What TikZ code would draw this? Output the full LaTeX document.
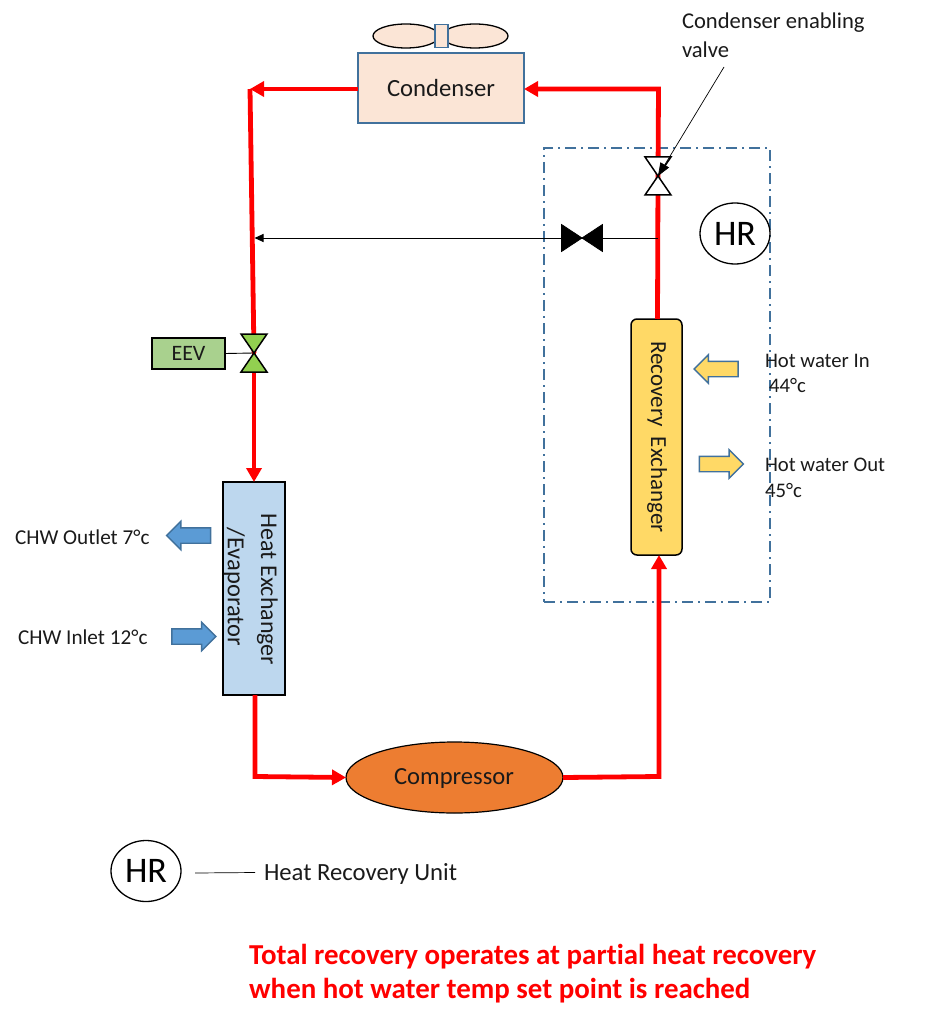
\documentclass[tikz,border=0pt]{standalone}
\usepackage{fontspec}
\setmainfont[Ligatures=NoCommon]{Carlito}
\usetikzlibrary{arrows.meta,shapes.geometric,shapes.arrows}
\definecolor{bluel}{HTML}{41719C}
\definecolor{peach}{HTML}{FBE5D6}
\definecolor{hxblue}{HTML}{BDD7EE}
\definecolor{midblue}{HTML}{5B9BD5}
\definecolor{gold}{HTML}{FFD966}
\definecolor{grn}{HTML}{A9D18E}
\definecolor{vgrn}{HTML}{92D050}
\definecolor{orng}{HTML}{ED7D31}
\definecolor{ink}{HTML}{1A1A1A}
\tikzset{
  lab/.style={font=\fontsize{21}{25}\selectfont,text=ink,inner sep=0pt,outer sep=0pt},
  box/.style={draw,line width=1.5pt,inner sep=0pt,outer sep=0pt},
  pipe/.style={red,line width=4.8pt,line join=miter},
  pipearrow/.style={pipe,-{Triangle[length=14pt,width=15pt]}},
  thin/.style={draw=black,line width=0.9pt},
  blk/.style={shape=single arrow,single arrow head extend=6.5pt,single arrow head indent=0pt,
     minimum height=44pt,inner xsep=0pt,inner ysep=7pt,outer sep=0pt,line width=1.4pt},
  hr/.style={ellipse,draw,line width=1.3pt,inner sep=0pt,outer sep=0pt,font=\fontsize{36}{40}\selectfont},
  tri/.style={draw=black,line width=1.5pt,line join=miter},
}
\begin{document}
\begin{tikzpicture}[x=1pt,y=-1pt]
\useasboundingbox (0,0) rectangle (929,1024);
% nodes
\node[box,draw=bluel,fill=peach,minimum width=166pt,minimum height=70pt] (cond) at (441,88) {};
\node[lab,font=\fontsize{24.7}{28}\selectfont] (condt) at (441,88) {Condenser};
\node[ellipse,draw=black,line width=1.3pt,fill=peach,minimum width=66pt,minimum height=24pt,inner sep=0pt] (fanl) at (406,36) {};
\node[ellipse,draw=black,line width=1.3pt,fill=peach,minimum width=66pt,minimum height=24pt,inner sep=0pt] (fanr) at (475,36) {};
\node[box,draw=bluel,fill=peach,minimum width=13pt,minimum height=23pt,line width=1.2pt] (hub) at (441.5,36) {};
\node[box,fill=hxblue,minimum width=62pt,minimum height=213pt] (hx) at (254,588.5) {};
\node[lab,rotate=-90,font=\fontsize{24}{28}\selectfont] (hxa) at (267.5,589.5) {Heat Exchanger};
\node[lab,rotate=-90,font=\fontsize{24.5}{28}\selectfont] (hxb) at (234.5,587) {/Evaporator};
\node[box,fill=gold,rounded corners=6pt,minimum width=51pt,minimum height=236pt] (rec) at (656.5,437) {};
\node[lab,rotate=-90,font=\fontsize{23}{27}\selectfont] (rect) at (657,437) {Recovery\ \ Exchanger};
\node[ellipse,draw=black,line width=1.2pt,fill=orng,minimum width=217pt,minimum height=71pt,inner sep=0pt,outer sep=0pt] (comp) at (454.5,777.5) {};
\node[lab,font=\fontsize{24.6}{28}\selectfont] (compt) at (454,778) {Compressor};
\node[box,fill=grn,minimum width=73pt,minimum height=31pt] (eev) at (188.5,353.5) {};
\node[lab,font=\fontsize{22}{26}\selectfont] (eevt) at (188.5,353.5) {EEV};
% coordinates
\coordinate (c1) at (250,89);
\coordinate (c2) at (658.5,89);
\coordinate (c3) at (255,776.5);
\coordinate (c4) at (659,776.5);
\coordinate (v1) at (658,176);
\coordinate (v2) at (582,238);
\coordinate (v3) at (254,353);
\coordinate (tee) at (658,238);
\coordinate (teel) at (254.5,238);
\coordinate (notea) at (724,67);
\coordinate (rectop) at (657.5,319);
% dash-dot box
\node[draw=bluel,line width=1.3pt,dash pattern=on 11pt off 5pt on 2pt off 5pt,minimum width=226pt,minimum height=454pt,inner sep=0pt] (hrbox) at (657,375) {};
% pipes
\draw[pipe] (c1) -- (v3);
\draw[pipearrow] (c1 -| cond.west) -- (c1);
\draw[pipearrow] (v3) -- (hx.north -| v3);
\draw[pipearrow] (hx.south -| c3) -- (c3) -- (comp.west);
\draw[pipearrow] (comp.east) -- (c4) -- (rec.south -| c4);
\draw[pipe] (rectop) -- (v1);
\draw[pipearrow] (v1) -- (c2) -- (cond.east |- c2);
% thin
\draw[thin,-{Triangle[length=9pt,width=8pt]}] (tee) -- (teel);
\draw[thin] (eev.east) -- (v3);
% valves
\draw[tri,fill=white] (v1) -- ++(-13,-19) -- ++(26,0) -- cycle;
\draw[tri,fill=white] (v1) -- ++(-13,19) -- ++(26,0) -- cycle;
\draw[tri,fill=black,line width=0.8pt] (v2) -- ++(-20.5,-13.5) -- ++(0,27) -- cycle;
\draw[tri,fill=black,line width=0.8pt] (v2) -- ++(20.5,-13.5) -- ++(0,27) -- cycle;
\draw[tri,fill=vgrn] (v3) -- ++(-13,-19) -- ++(26,0) -- cycle;
\draw[tri,fill=vgrn] (v3) -- ++(-13,19) -- ++(26,0) -- cycle;
% annotation
\draw[black,line width=0.7pt,-{Triangle[length=13pt,width=10pt]}] (notea) -- (v1);
\node[lab,anchor=west,font=\fontsize{22.6}{26}\selectfont] (note1) at (682,23) {Condenser enabling};
\node[lab,anchor=west,font=\fontsize{22.6}{26}\selectfont] (note2) at (682,50) {valve};
% HR
\node[hr,minimum width=70pt,minimum height=61pt] (hr1) at (735,233.5) {HR};
\node[hr,minimum width=70pt,minimum height=61pt] (hr2) at (146,871) {HR};
\coordinate (legl) at (255,872.5);
\draw[black,line width=0.7pt] (hr2.east) ++(14,2) -- (legl);
\node[lab,font=\fontsize{24.7}{28}\selectfont,anchor=west] (leg) at (264,873.5) {Heat Recovery Unit};
% block arrows
\node[blk,draw=bluel,fill=midblue,rotate=180] (a1) at (192.5,535.5) {};
\node[blk,draw=bluel,fill=midblue] (a2) at (190,636.5) {};
\node[blk,draw=bluel,fill=gold,rotate=180] (a3) at (720,369) {};
\node[blk,draw=bluel,fill=gold] (a4) at (717.5,464) {};
% labels
\node[lab,anchor=west,font=\fontsize{21.2}{25}\selectfont] (l1) at (15,537) {CHW Outlet 7°c};
\node[lab,anchor=west,font=\fontsize{21.2}{25}\selectfont] (l2) at (18,637) {CHW Inlet 12°c};
\node[lab,anchor=west,font=\fontsize{20.7}{25}\selectfont] (l3) at (765,361) {Hot water In};
\node[lab,anchor=west,font=\fontsize{20.7}{25}\selectfont] (l4) at (769,385) {44°c};
\node[lab,anchor=west,font=\fontsize{20.7}{25}\selectfont] (l5) at (765,465) {Hot water Out};
\node[lab,anchor=west,font=\fontsize{20.7}{25}\selectfont] (l6) at (765,490) {45°c};
\node[anchor=west,inner sep=0pt,text=red,font=\bfseries\fontsize{28.9}{33}\selectfont] (r1) at (249,957) {Total recovery operates at partial heat recovery};
\node[anchor=west,inner sep=0pt,text=red,font=\bfseries\fontsize{28.9}{33}\selectfont] (r2) at (249,991) {when hot water temp set point is reached};
\end{tikzpicture}
\end{document}
